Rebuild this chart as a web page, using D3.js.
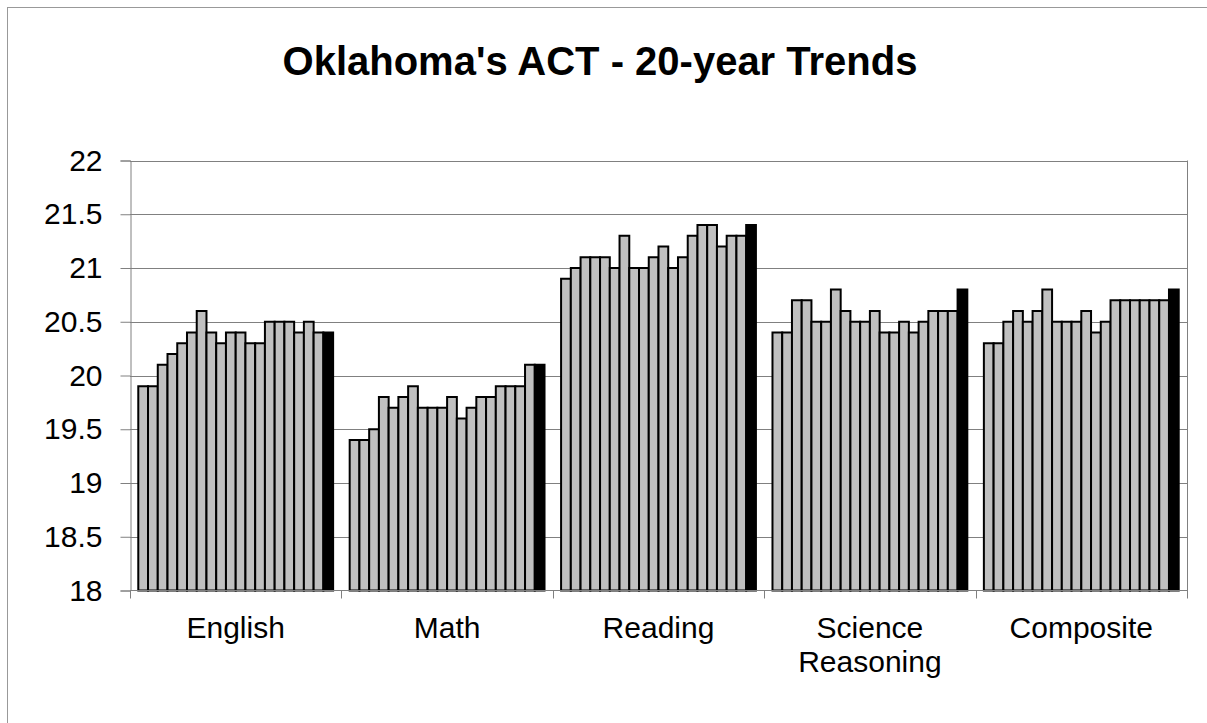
<!DOCTYPE html>
<html>
<head>
<meta charset="utf-8">
<script src="https://cdn.jsdelivr.net/npm/d3@7"></script>
<style>
    body { margin: 0; background: #fff; }
    svg { display: block; font-family: Arial, "Liberation Sans", sans-serif; }
</style>
</head>
<body>
<svg id="chart" width="1207" height="723"></svg>
<script>
// categories and 20 yearly values each (last year drawn black)
const subjects = ["English", "Math", "Reading", "Science Reasoning", "Composite"];
const years = d3.range(1990, 2010);
const english   = [19.9, 19.9, 20.1, 20.2, 20.3, 20.4, 20.6, 20.4, 20.3, 20.4, 20.4, 20.3, 20.3, 20.5, 20.5, 20.5, 20.4, 20.5, 20.4, 20.4];
const math      = [19.4, 19.4, 19.5, 19.8, 19.7, 19.8, 19.9, 19.7, 19.7, 19.7, 19.8, 19.6, 19.7, 19.8, 19.8, 19.9, 19.9, 19.9, 20.1, 20.1];
const reading   = [20.9, 21.0, 21.1, 21.1, 21.1, 21.0, 21.3, 21.0, 21.0, 21.1, 21.2, 21.0, 21.1, 21.3, 21.4, 21.4, 21.2, 21.3, 21.3, 21.4];
const science   = [20.4, 20.4, 20.7, 20.7, 20.5, 20.5, 20.8, 20.6, 20.5, 20.5, 20.6, 20.4, 20.4, 20.5, 20.4, 20.5, 20.6, 20.6, 20.6, 20.8];
const composite = [20.3, 20.3, 20.5, 20.6, 20.5, 20.6, 20.8, 20.5, 20.5, 20.5, 20.6, 20.4, 20.5, 20.7, 20.7, 20.7, 20.7, 20.7, 20.7, 20.8];
const yTicks = [18, 18.5, 19, 19.5, 20, 20.5, 21, 21.5, 22];

const series = [english, math, reading, science, composite];

const svg = d3.select("#chart");
const plotL = 130, plotR = 1187, plotT = 160.5, plotB = 590.5;

// chart border
svg.append("rect")
    .attr("x", 7.5).attr("y", 7.5)
    .attr("width", 1220).attr("height", 730)
    .attr("fill", "none").attr("stroke", "#999");

svg.append("text")
    .attr("x", 600).attr("y", 75)
    .attr("text-anchor", "middle")
    .attr("font-size", 40).attr("font-weight", "bold")
    .text("Oklahoma's ACT - 20-year Trends");

const x = d3.scaleBand().domain(subjects).range([plotL, plotR]);
const xYear = d3.scaleBand().domain(years).range([0, x.bandwidth()]).paddingOuter(0.85);
const y = d3.scaleLinear().domain([18, 22]).range([plotB, plotT]);

// gridlines
svg.append("g").selectAll("line")
    .data(yTicks.filter(d => d > 18))
    .join("line")
    .attr("x1", plotL).attr("x2", plotR)
    .attr("y1", d => Math.round(y(d)) + 0.5).attr("y2", d => Math.round(y(d)) + 0.5)
    .attr("stroke", "#808080");

// plot area right edge
svg.append("line")
    .attr("x1", plotR + 0.5).attr("x2", plotR + 0.5)
    .attr("y1", plotT).attr("y2", plotB)
    .attr("stroke", "#808080");

// bars
const groups = svg.append("g").selectAll("g")
    .data(subjects)
    .join("g")
    .attr("transform", d => `translate(${x(d)},0)`);

groups.selectAll("rect")
    .data((d, i) => series[i].map((v, j) => ({ year: years[j], v, last: j === years.length - 1 })))
    .join("rect")
    .attr("x", d => xYear(d.year))
    .attr("width", xYear.bandwidth())
    .attr("y", d => y(d.v))
    .attr("height", d => y(18) - y(d.v))
    .attr("fill", d => d.last ? "#000" : "#c0c0c0")
    .attr("stroke", "#000")
    .attr("stroke-width", 2);

// y axis
const yAxis = svg.append("g")
    .attr("transform", `translate(${plotL + 0.5},0)`)
    .call(d3.axisLeft(y).tickValues(yTicks).tickFormat(d3.format("")).tickSize(10).tickPadding(18));
yAxis.select(".domain").attr("stroke", "#808080");
yAxis.selectAll(".tick line").attr("stroke", "#808080");
yAxis.selectAll("text").attr("font-size", 30).attr("fill", "#000").attr("font-family", "Arial, 'Liberation Sans', sans-serif");

// x axis
svg.append("line")
    .attr("x1", plotL).attr("x2", plotR + 1)
    .attr("y1", plotB).attr("y2", plotB)
    .attr("stroke", "#808080");
svg.append("g").selectAll("line")
    .data(subjects.map(d => x(d)).concat([plotR]))
    .join("line")
    .attr("x1", d => Math.round(d) + 0.5).attr("x2", d => Math.round(d) + 0.5)
    .attr("y1", plotB).attr("y2", plotB + 8)
    .attr("stroke", "#808080");

const labels = svg.append("g").selectAll("text")
    .data(subjects)
    .join("text")
    .attr("x", d => x(d) + x.bandwidth() / 2)
    .attr("y", 638)
    .attr("text-anchor", "middle")
    .attr("font-size", 30);
labels.each(function (d) {
    const words = d === "Science Reasoning" ? ["Science", "Reasoning"] : [d];
    d3.select(this).selectAll("tspan")
        .data(words)
        .join("tspan")
        .attr("x", x(d) + x.bandwidth() / 2)
        .attr("dy", (w, i) => i === 0 ? 0 : 33.5)
        .text(w => w);
});
</script>
</body>
</html>
